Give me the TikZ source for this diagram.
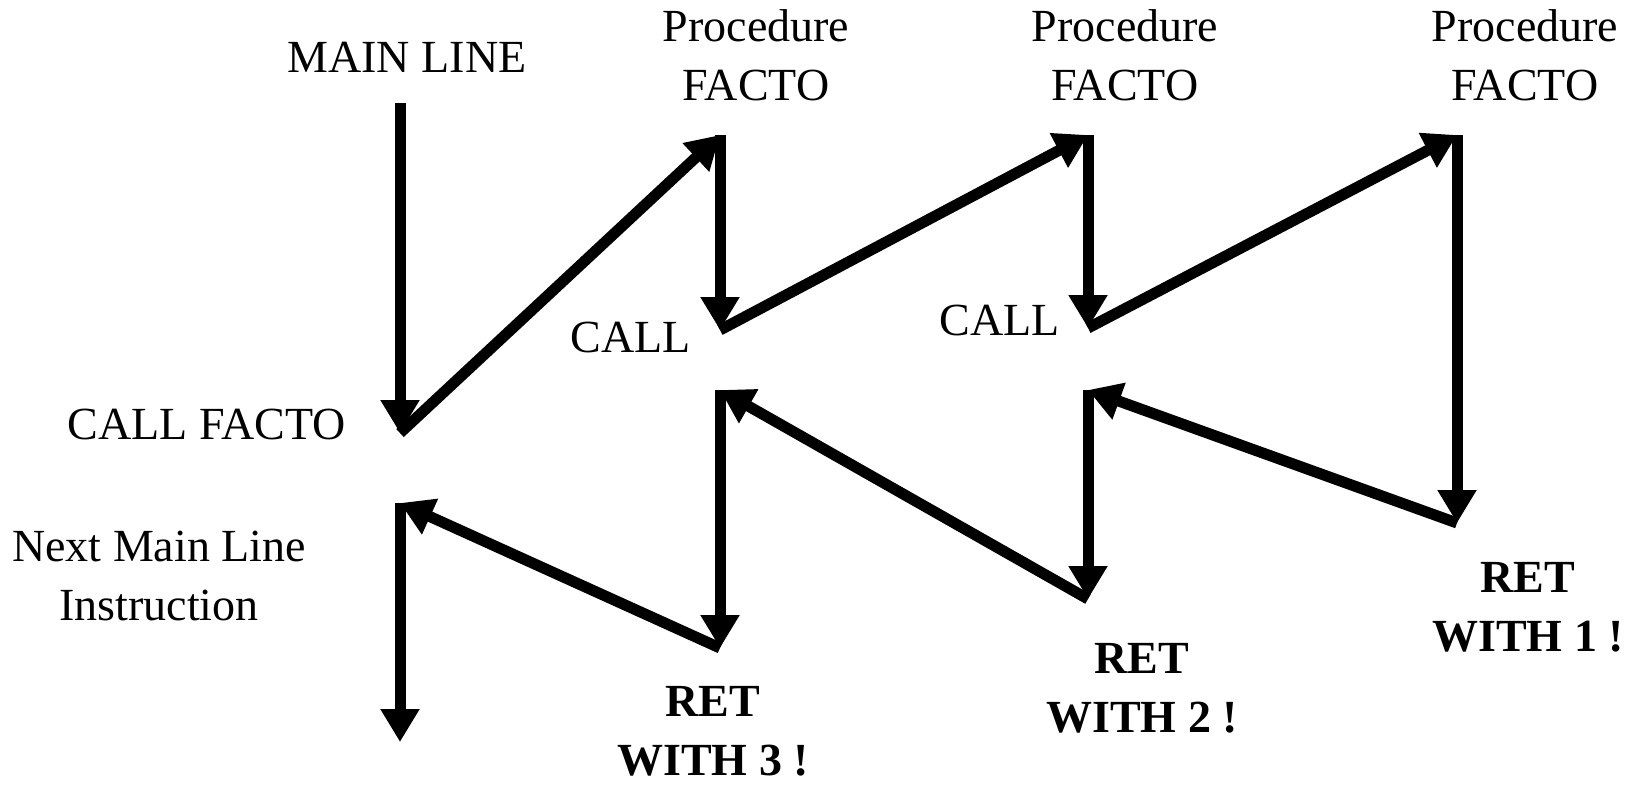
\documentclass[tikz,border=0pt]{standalone}
\usepackage{fontspec}
\setmainfont{Liberation Serif}
\usetikzlibrary{arrows.meta}
\begin{document}
\begin{tikzpicture}[x=1pt,y=-1pt,
  flow/.style={line width=11pt, line cap=butt, -{Triangle[width=37pt,length=33pt]}},
  lbl/.style={font=\fontsize{46}{59}\selectfont, inner sep=0pt, align=center},
  rlbl/.style={font=\fontsize{46}{59}\selectfont\bfseries, inner sep=0pt, align=center}]
\useasboundingbox (0,0) rectangle (1634,785);
% corner points
\coordinate (m0) at (400,103);
\coordinate (m1) at (400,433);
\coordinate (p1t) at (720,135);
\coordinate (p1b) at (720,330);
\coordinate (p2t) at (1088,135);
\coordinate (p2b) at (1088,328);
\coordinate (p3t) at (1457,135);
\coordinate (p3b) at (1457,523);
\coordinate (r2t) at (1088,390);
\coordinate (r2b) at (1088,599);
\coordinate (r3t) at (720,390);
\coordinate (r3b) at (720,648);
\coordinate (n0) at (400,503);
\coordinate (n1) at (400,742);
% labels
\node[lbl, anchor=base] (main) at (407,72) {MAIN LINE};
\node[lbl, anchor=south] (proc1) at (756,101) {Procedure\\FACTO};
\node[lbl, anchor=south] (proc2) at (1125,101) {Procedure\\FACTO};
\node[lbl, anchor=south] (proc3) at (1525,101) {Procedure\\FACTO};
\node[lbl, anchor=base] (callf) at (207,439) {CALL FACTO};
\node[lbl, anchor=base] (call1) at (631,352) {CALL};
\node[lbl, anchor=base] (call2) at (1000,335) {CALL};
\node[lbl, anchor=south] (next) at (159,621) {Next Main Line\\Instruction};
\node[rlbl, anchor=south] (ret3) at (713,776) {RET\\WITH 3 !};
\node[rlbl, anchor=south] (ret2) at (1142,733) {RET\\WITH 2 !};
\node[rlbl, anchor=south] (ret1) at (1528,652) {RET\\WITH 1 !};
% connectors
\draw[flow] (m0) -- (m1);
\draw[flow] (m1) -- (p1t);
\draw[flow] (p1t) -- (p1b);
\draw[flow] (p1b) -- (p2t);
\draw[flow] (p2t) -- (p2b);
\draw[flow] (p2b) -- (p3t);
\draw[flow] (p3t) -- (p3b);
\draw[flow] (p3b) -- (r2t);
\draw[flow] (r2t) -- (r2b);
\draw[flow] (r2b) -- (r3t);
\draw[flow] (r3t) -- (r3b);
\draw[flow] (r3b) -- (n0);
\draw[flow] (n0) -- (n1);
\end{tikzpicture}
\end{document}
